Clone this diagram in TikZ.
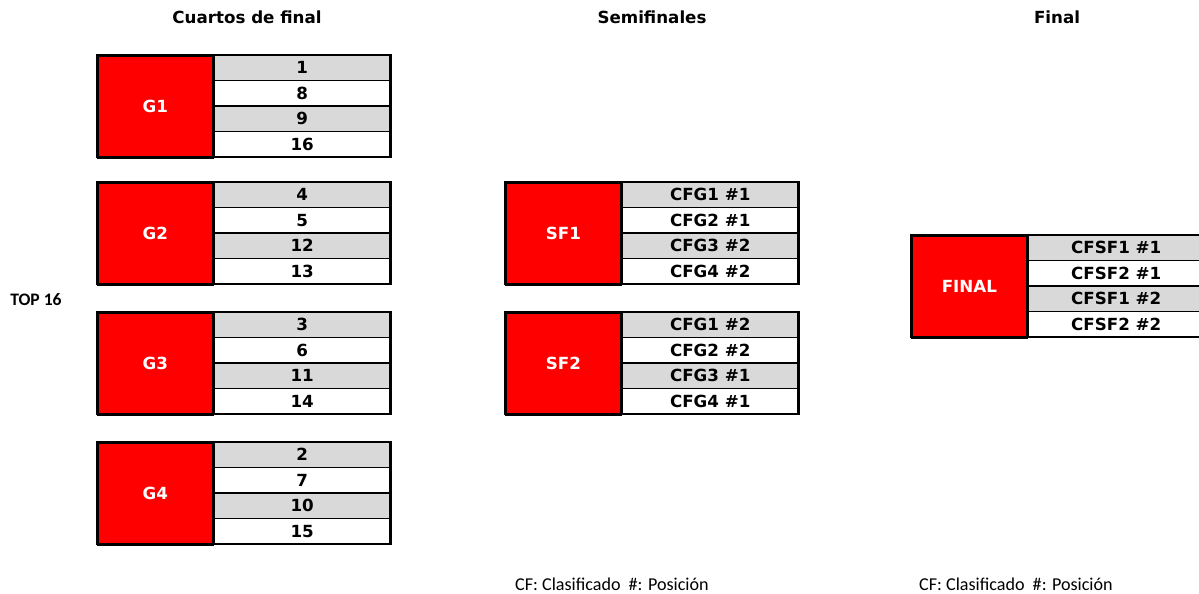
\documentclass[tikz,border=0pt]{standalone}
\usepackage{fontspec}
\setmainfont{DejaVu Sans}
\newfontfamily\notafont{Carlito}
\usetikzlibrary{positioning}

\definecolor{rojo}{RGB}{255,0,0}
\definecolor{gris}{RGB}{217,217,217}

\tikzset{
  titulo/.style={font=\bfseries\fontsize{9.5}{11}\selectfont},
  nota/.style={font=\notafont\fontsize{10.3}{12}\selectfont, anchor=west},
  caja/.style={fill=rojo, draw=black, line width=1pt, text=white,
    minimum width=2.3cm, minimum height=2.04cm, inner sep=0pt,
    font=\bfseries\fontsize{9.5}{11}\selectfont},
  fila/.style={draw=black, line width=1pt, minimum width=3.54cm,
    minimum height=0.51cm, inner sep=0pt, outer sep=0pt,
    font=\bfseries\fontsize{9.5}{11}\selectfont},
  borde/.style={line width=1.6pt}
}

% name, x, y, label, four entries
\newcommand{\cuadro}[8]{%
  \node[caja, anchor=north west] (#1) at (#2,#3) {#4};
  \node[fila, fill=gris, anchor=north west] (#1a) at (#1.north east) {#5};
  \node[fila, below=0pt of #1a] (#1b) {#6};
  \node[fila, fill=gris, below=0pt of #1b] (#1c) {#7};
  \node[fila, below=0pt of #1c] (#1d) {#8};
  \draw[borde] (#1.north west) rectangle (#1d.south east);
}

\begin{document}
\begin{tikzpicture}[x=0.02cm,y=-0.02cm]
\useasboundingbox (0,0) rectangle (1199,594);

% Column titles
\node[titulo] (tcuartos) at (247,17) {Cuartos de final};
\node[titulo] (tsemi) at (652,17) {Semifinales};
\node[titulo] (tfinal) at (1057,17) {Final};
\node[font=\notafont\bfseries\fontsize{10}{12}\selectfont] (top) at (36,300) {TOP 16};

% Quarter finals
\cuadro{G1}{97}{55}{G1}{1}{8}{9}{16}
\cuadro{G2}{97}{182}{G2}{4}{5}{12}{13}
\cuadro{G3}{97}{312}{G3}{3}{6}{11}{14}
\cuadro{G4}{97}{442}{G4}{2}{7}{10}{15}

% Semi finals
\cuadro{SF1}{505}{182}{SF1}{CFG1 \#1}{CFG2 \#1}{CFG3 \#2}{CFG4 \#2}
\cuadro{SF2}{505}{312}{SF2}{CFG1 \#2}{CFG2 \#2}{CFG3 \#1}{CFG4 \#1}

% Final
\cuadro{FIN}{911}{235}{FINAL}{CFSF1 \#1}{CFSF2 \#1}{CFSF1 \#2}{CFSF2 \#2}

% Notes
\node[nota] (nota1) at (509,584) {CF: Clasificado\ \ \#: Posición};
\node[nota] (nota2) at (913,584) {CF: Clasificado\ \ \#: Posición};
\end{tikzpicture}
\end{document}
